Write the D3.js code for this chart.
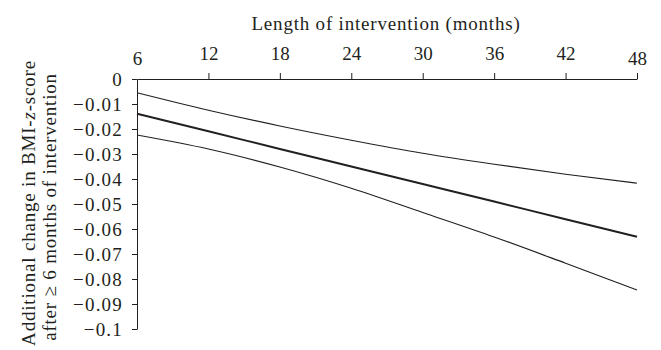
<!DOCTYPE html>
<html><head><meta charset="utf-8">
<script src="https://cdn.jsdelivr.net/npm/d3@7"></script>
<style>
body{margin:0;background:#fff;}
text{font-family:"Liberation Serif","Times New Roman",serif;fill:#231f20;}
</style></head>
<body><svg id="c" width="661" height="350"></svg>
<script>
const months = [6, 12, 18, 24, 30, 36, 42, 48];
const estimate = [-0.0139, -0.0209, -0.0280, -0.0350, -0.0420, -0.0490, -0.0561, -0.0631];
const upper = [-0.0055, -0.0125, -0.0188, -0.0245, -0.0297, -0.0341, -0.0381, -0.0417];
const lower = [-0.0224, -0.0280, -0.0352, -0.0437, -0.0534, -0.0632, -0.0737, -0.0844];
const xTicks = [6, 12, 18, 24, 30, 36, 42, 48];
const yTicks = [0, -0.01, -0.02, -0.03, -0.04, -0.05, -0.06, -0.07, -0.08, -0.09, -0.1];

const svg = d3.select("#c");
const x = d3.scaleLinear().domain([6, 48]).range([137, 637]);
const y = d3.scaleLinear().domain([0, -0.1]).range([79, 329]);
const ink = "#231f20";
const fs = "19px";

const fmt = v => v === 0 ? "0" : (v === -0.1 ? "\u22120.1" : "\u2212" + Math.abs(v).toFixed(2));

// x axis (top)
const xa = svg.append("g").attr("transform", "translate(0,79)")
  .call(d3.axisTop(x).tickValues(xTicks).tickSize(6).tickSizeOuter(0).tickPadding(13).tickFormat(d3.format("d")));
xa.selectAll("text").style("font-size", fs).attr("fill", ink)
  .attr("dy", (d) => (d === 6 || d === 48) ? "5px" : "0");
xa.selectAll("line").attr("stroke", ink);
xa.select(".domain").attr("stroke", ink);
xa.selectAll(".tick").filter(d => d === 6).select("line").remove();

// y axis (left)
const ya = svg.append("g").attr("transform", "translate(137,0)")
  .call(d3.axisLeft(y).tickValues(yTicks).tickSize(5).tickSizeOuter(0).tickPadding(9).tickFormat(fmt));
ya.selectAll("text").style("font-size", fs).style("letter-spacing", "1.2px").attr("fill", ink);
ya.selectAll("line").attr("stroke", ink);
ya.select(".domain").attr("stroke", ink);

// titles
svg.append("text").attr("x", 386).attr("y", 30).attr("text-anchor", "middle")
  .style("font-size", fs).style("letter-spacing", "0.8px").text("Length of intervention (months)");

const yt = svg.append("text").attr("transform", "translate(35,203) rotate(-90)")
  .attr("text-anchor", "middle").style("font-size", fs).style("letter-spacing", "0.8px");
yt.append("tspan").text("Additional change in BMI-");
yt.append("tspan").style("font-style", "italic").text("z");
yt.append("tspan").text("-score");
svg.append("text").attr("transform", "translate(56,207) rotate(-90)")
  .attr("text-anchor", "middle").style("font-size", fs).style("letter-spacing", "0.8px")
  .text("after \u2265 6 months of intervention");

// lines
const line = d3.line().x((d, i) => x(months[i])).y(d => y(d)).curve(d3.curveMonotoneX);
svg.append("path").datum(upper).attr("d", line).attr("fill", "none").attr("stroke", ink).attr("stroke-width", 1.2);
svg.append("path").datum(lower).attr("d", line).attr("fill", "none").attr("stroke", ink).attr("stroke-width", 1.2);
svg.append("path").datum(estimate).attr("d", line).attr("fill", "none").attr("stroke", ink).attr("stroke-width", 2);
</script></body></html>
